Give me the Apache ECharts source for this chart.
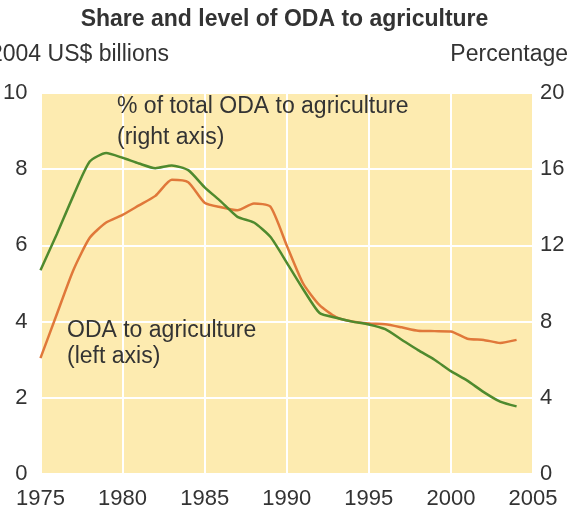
<!DOCTYPE html>
<html>
<head>
<meta charset="utf-8">
<script src="https://cdn.jsdelivr.net/npm/echarts@6/dist/echarts.min.js"></script>
<style>
  html, body { margin: 0; padding: 0; background: #fff; }
  #chart { width: 569px; height: 512px; }
</style>
</head>
<body>
<div id="chart"></div>
<script>
// years on the x axis
const years = [1975, 1976, 1977, 1978, 1979, 1980, 1981, 1982, 1983, 1984,
  1985, 1986, 1987, 1988, 1989, 1990, 1991, 1992, 1993, 1994,
  1995, 1996, 1997, 1998, 1999, 2000, 2001, 2002, 2003, 2004];
// ODA to agriculture, 2004 US$ billions (left axis)
const odaLevel = [3.04, 4.2, 5.35, 6.2, 6.6, 6.8, 7.05, 7.3, 7.72, 7.66,
  7.12, 7.0, 6.92, 7.1, 7.02, 6.0, 5.0, 4.43, 4.12, 4.0,
  3.95, 3.93, 3.85, 3.76, 3.75, 3.74, 3.55, 3.52, 3.44, 3.52];
// % of total ODA to agriculture (right axis)
const odaShare = [10.7, 12.6, 14.6, 16.4, 16.85, 16.6, 16.3, 16.05, 16.2, 15.95,
  15.05, 14.3, 13.5, 13.2, 12.45, 11.1, 9.7, 8.45, 8.2, 8.0,
  7.85, 7.6, 7.05, 6.5, 6.0, 5.4, 4.9, 4.3, 3.8, 3.55];
const xTicks = [1975, 1980, 1985, 1990, 1995, 2000, 2005];

const font = '"Liberation Sans", Arial, sans-serif';
const txt = '#333';

const chart = echarts.init(document.getElementById('chart'));
chart.setOption({
  animation: false,
  textStyle: { fontFamily: font },
  title: {
    text: 'Share and level of ODA to agriculture',
    left: 'center',
    top: 8,
    padding: 0,
    textStyle: { fontFamily: font, fontSize: 23, fontWeight: 'bold', color: txt }
  },
  grid: {
    left: 40, right: 36, top: 93, bottom: 38,
    show: true, backgroundColor: '#fdebb0', borderWidth: 0
  },
  xAxis: {
    type: 'value',
    min: xTicks[0],
    max: xTicks[xTicks.length - 1],
    interval: 5,
    axisLine: { show: false },
    axisTick: { show: false },
    axisLabel: { color: txt, fontSize: 22, margin: 14, fontFamily: font, formatter: v => String(v) },
    splitLine: { show: true, lineStyle: { color: '#fff', width: 2 } }
  },
  yAxis: [
    {
      type: 'value', min: 0, max: 10, interval: 2,
      axisLine: { show: false }, axisTick: { show: false },
      axisLabel: { color: txt, fontSize: 22, margin: 13, fontFamily: font },
      splitLine: { show: true, lineStyle: { color: '#fff', width: 2 } }
    },
    {
      type: 'value', min: 0, max: 20, interval: 4,
      axisLine: { show: false }, axisTick: { show: false },
      axisLabel: { color: txt, fontSize: 22, margin: 7, fontFamily: font },
      splitLine: { show: false }
    }
  ],
  graphic: [
    { type: 'text', z: 100, left: -10, top: 43, style: { text: '2004 US$ billions', fill: txt, font: '23px ' + font } },
    { type: 'text', z: 100, right: 1, top: 43, style: { text: 'Percentage', fill: txt, font: '23px ' + font } },
    { type: 'text', z: 100, left: 117, top: 91, style: { text: '% of total ODA to agriculture\n(right axis)', fill: txt, font: '23px ' + font, lineHeight: 31 } },
    { type: 'text', z: 100, left: 67, top: 318, style: { text: 'ODA to agriculture\n(left axis)', fill: txt, font: '23px ' + font, lineHeight: 26 } }
  ],
  series: [
    {
      name: 'ODA to agriculture',
      type: 'line',
      yAxisIndex: 0,
      data: years.map((y, i) => [y, odaLevel[i]]),
      showSymbol: false,
      smooth: 0.2,
      lineStyle: { color: '#e0783a', width: 2.5 }
    },
    {
      name: '% of total ODA to agriculture',
      type: 'line',
      yAxisIndex: 1,
      data: years.map((y, i) => [y, odaShare[i]]),
      showSymbol: false,
      smooth: 0.2,
      lineStyle: { color: '#4f8a2e', width: 2.5 }
    }
  ]
});
</script>
</body>
</html>
